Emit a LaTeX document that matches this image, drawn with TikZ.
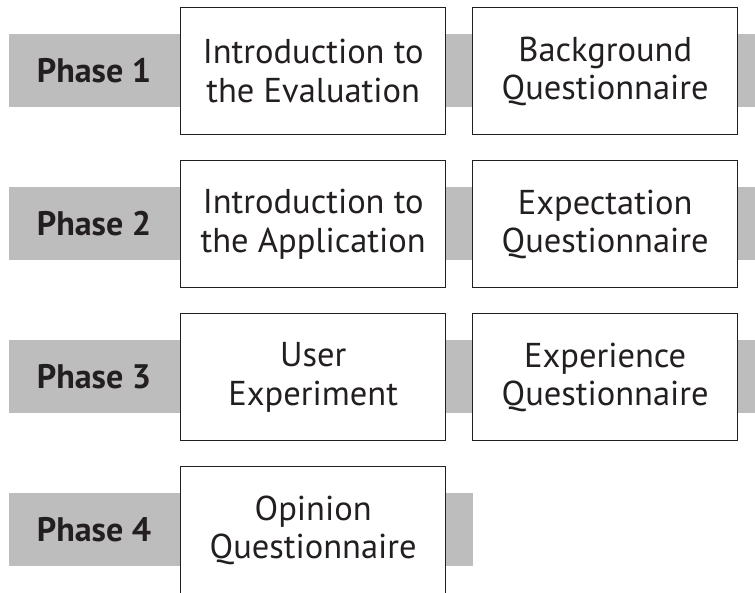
\documentclass[tikz,border=0pt]{standalone}
\usepackage{fontspec}
\setmainfont{PT Sans}
\definecolor{bar}{HTML}{BDBDBD}
\definecolor{ink}{HTML}{231F20}
\begin{document}
\begin{tikzpicture}[x=1pt,y=-1pt,
  stepbox/.style={draw=ink,line width=1.4pt,fill=white,minimum width=265pt,minimum height=127pt,align=center,font=\fontsize{34.5}{38.5}\selectfont,text=ink,anchor=north west,inner sep=0pt},
  phaselbl/.style={font=\bfseries\fontsize{34}{38}\selectfont,text=ink}]
\useasboundingbox (0,0) rectangle (755,592);
% row 1
\fill[bar] (9,34) rectangle (755,107);
\node[phaselbl] (p1) at (94,71) {Phase 1};
\node[stepbox] (a1) at (180,7) {Introduction to\\the Evaluation};
\node[stepbox] (b1) at (472,7) {Background\\Questionnaire};
% row 2
\fill[bar] (9,187) rectangle (755,260);
\node[phaselbl] (p2) at (94,224) {Phase 2};
\node[stepbox] (a2) at (180,160) {Introduction to\\the Application};
\node[stepbox] (b2) at (472,160) {Expectation\\Questionnaire};
% row 3
\fill[bar] (9,340) rectangle (755,413);
\node[phaselbl] (p3) at (94,377) {Phase 3};
\node[stepbox] (a3) at (180,313) {User\\Experiment};
\node[stepbox] (b3) at (472,313) {Experience\\Questionnaire};
% row 4
\fill[bar] (9,493) rectangle (473,566);
\node[phaselbl] (p4) at (94,530) {Phase 4};
\node[stepbox] (a4) at (180,466) {Opinion\\Questionnaire};
\end{tikzpicture}
\end{document}
